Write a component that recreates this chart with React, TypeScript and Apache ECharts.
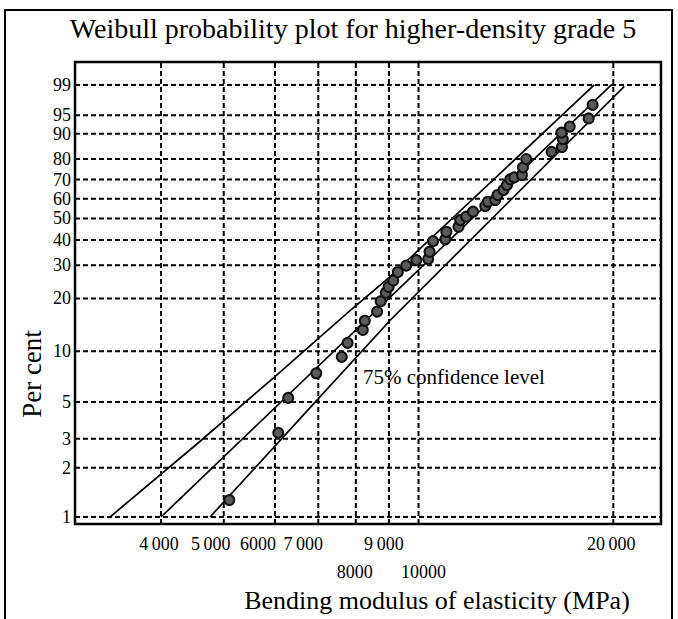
import React, { useEffect, useRef } from "react";
import * as echarts from "echarts";

// ---- data ----
const MODULUS = [
  5100, 6070, 6290, 6950, 7610, 7770, 8200, 8260, 8630, 8740, 8900, 8990, 9140,
  9290, 9570, 9920, 10350, 10400, 10530, 11000, 11040, 11530, 11600, 11850, 12140,
  12680, 12800, 13140, 13250, 13530, 13700, 13860, 14060, 14450, 14500, 14670,
  16060, 16660, 16710, 16630, 17130, 18320, 18580,
];
const PERCENT = [
  1.27, 3.26, 5.3, 7.43, 9.28, 11.2, 13.3, 15.0, 16.9, 19.3, 21.5, 23.1, 25.0,
  27.7, 29.9, 31.9, 32.3, 35.1, 39.5, 40.3, 43.7, 46.0, 49.2, 50.9, 53.4,
  56.3, 58.5, 59.4, 62.0, 64.6, 67.2, 70.1, 71.1, 72.3, 76.1, 80.0,
  83.2, 85.2, 88.2, 90.4, 92.2, 94.3, 96.9,
];
const FIT_MODULUS = [4000, 19860];
const FIT_PERCENT = [1, 99];
const UPPER_MODULUS = [3336, 4597, 5962, 7925, 9043, 18690];
const UPPER_PERCENT = [1, 2.9, 6.95, 17.7, 26.2, 99];
const LOWER_MODULUS = [4762, 6922, 9073, 20800];
const LOWER_PERCENT = [1, 5, 15.3, 98.9];

const PCT_TICKS = [1, 2, 3, 5, 10, 20, 30, 40, 50, 60, 70, 80, 90, 95, 99];
const MOD_TICKS = [4000, 5000, 6000, 7000, 8000, 9000, 10000, 20000];
const MOD_TICK_LABELS = ["4\u2009000", "5\u2009000", "6000", "7\u2009000", "8000", "9\u2009000", "10000", "20\u2009000"];

const X_MIN = 2945;
const X_MAX = 23700;
const PCT_MIN = 0.906;
const PCT_MAX = 99.83;

// ---- layout (not data) ----
const LOWER_ROW = [8000, 10000];
const LABEL_SHIFT: Record<number, number> = { 4000: -2, 5000: -13, 6000: -17, 7000: -15, 8000: -1, 9000: -5, 10000: 5, 20000: -2 };
const FONT = "'Liberation Serif', 'Times New Roman', serif";

const weibull = (p: number) => Math.log(-Math.log(1 - p / 100));
const W_MIN = weibull(PCT_MIN);
const W_MAX = weibull(PCT_MAX);

const pairs = (xs: number[], ps: number[]) => xs.map((x, i) => [x, weibull(ps[i])]);

export default function App() {
  const ref = useRef<HTMLDivElement>(null);
  useEffect(() => {
    if (!ref.current) return;
    const chart = echarts.init(ref.current, undefined, { renderer: "svg" });
    const lineStyle = { color: "#000", width: 1.7 };
    const option: any = {
      animation: false,
      backgroundColor: "#fff",
      textStyle: { fontFamily: FONT },
      grid: {
        left: 75, top: 62, width: 586, height: 462,
        show: true, borderColor: "#000", borderWidth: 2.5, backgroundColor: "transparent",
        outerBoundsMode: "none",
      },
      xAxis: {
        type: "log", logBase: 10, min: X_MIN, max: X_MAX,
        axisLine: { show: false }, axisTick: { show: false }, axisLabel: { show: false }, splitLine: { show: false },
      },
      yAxis: {
        type: "value", min: W_MIN, max: W_MAX,
        axisLine: { show: false }, axisTick: { show: false }, axisLabel: { show: false }, splitLine: { show: false },
      },
      graphic: [
        { type: "rect", shape: { x: 5, y: 10, width: 667, height: 650 }, style: { fill: "none", stroke: "#000", lineWidth: 2 }, z: 0 },
        { type: "text", x: 353, y: 28, style: { text: "Weibull probability plot for higher-density grade 5", font: `28px ${FONT}`, fill: "#000", align: "center", verticalAlign: "middle" } },
        { type: "text", x: 32, y: 374, rotation: Math.PI / 2, style: { text: "Per cent", font: `27px ${FONT}`, fill: "#000", align: "center", verticalAlign: "middle" } },
        { type: "text", x: 437, y: 600, style: { text: "Bending modulus of elasticity (MPa)", font: `26px ${FONT}`, fill: "#000", align: "center", verticalAlign: "middle" } },
        { type: "text", x: 363, y: 377, style: { text: "75% confidence level", font: `21px ${FONT}`, fill: "#000", align: "left", verticalAlign: "middle" }, z: 10 },
      ],
      series: [
        {
          type: "custom", name: "ygrid", clip: false, silent: true, z: 1,
          data: PCT_TICKS.map((p) => [X_MIN, weibull(p), p]),
          encode: { x: 0, y: 1 },
          renderItem: (_params: any, api: any) => {
            const w = api.value(1);
            const p = api.value(2);
            const a = api.coord([X_MIN, w]);
            const b = api.coord([X_MAX, w]);
            return {
              type: "group",
              children: [
                { type: "line", shape: { x1: a[0], y1: a[1], x2: b[0], y2: b[1] }, style: { stroke: "#000", lineWidth: 2, lineDash: [5, 3] } },
                { type: "text", x: a[0] - 4, y: a[1], style: { text: String(p), fill: "#000", font: `18px ${FONT}`, align: "right", verticalAlign: "middle" } },
              ],
            };
          },
        },
        {
          type: "custom", name: "xgrid", clip: false, silent: true, z: 1,
          data: MOD_TICKS.map((m, i) => [m, W_MIN, i]),
          encode: { x: 0, y: 1 },
          renderItem: (_params: any, api: any) => {
            const m = api.value(0);
            const i = api.value(2);
            const a = api.coord([m, W_MIN]);
            const b = api.coord([m, W_MAX]);
            const row = LOWER_ROW.indexOf(m) >= 0 ? 48 : 20;
            return {
              type: "group",
              children: [
                { type: "line", shape: { x1: a[0], y1: a[1], x2: b[0], y2: b[1] }, style: { stroke: "#000", lineWidth: 2, lineDash: [5, 3] } },
                { type: "text", x: a[0] + (LABEL_SHIFT[m] || 0), y: a[1] + row, style: { text: MOD_TICK_LABELS[i], fill: "#000", font: `18px ${FONT}`, align: "center", verticalAlign: "middle" } },
              ],
            };
          },
        },
        { type: "line", name: "upper", data: pairs(UPPER_MODULUS, UPPER_PERCENT), showSymbol: false, symbol: "none", lineStyle, z: 3, silent: true },
        { type: "line", name: "fit", data: pairs(FIT_MODULUS, FIT_PERCENT), showSymbol: false, symbol: "none", lineStyle, z: 3, silent: true },
        { type: "line", name: "lower", data: pairs(LOWER_MODULUS, LOWER_PERCENT), showSymbol: false, symbol: "none", lineStyle, z: 3, silent: true },
        {
          type: "scatter", name: "specimens", data: pairs(MODULUS, PERCENT), symbol: "circle", symbolSize: 10, z: 4,
          itemStyle: { color: "#5a5a5a", borderColor: "#111", borderWidth: 2, opacity: 1 },
        },
      ],
    };
    chart.setOption(option);
    return () => chart.dispose();
  }, []);
  return <div ref={ref} style={{ position: "absolute", left: 0, top: 0, width: 678, height: 619 }} />;
}
